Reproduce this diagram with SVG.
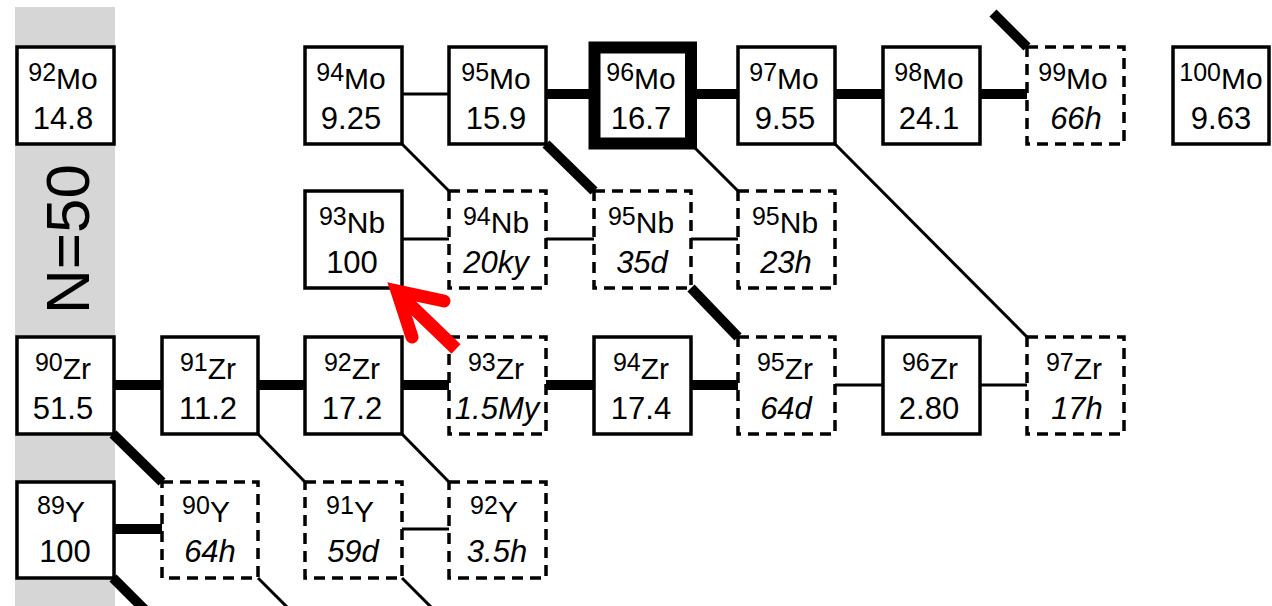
<svg xmlns="http://www.w3.org/2000/svg" width="1272" height="606" viewBox="0 0 1272 606">
<style>
.band{fill:#d6d6d6}
.box{fill:#fff;stroke:#000;stroke-width:3.5}
.rad{fill:#fff;stroke:#000;stroke-width:3.5;stroke-dasharray:11 7}
.big{fill:#fff;stroke:#000;stroke-width:12}
.thin{stroke:#000;stroke-width:3;fill:none}
.thick{stroke:#000;stroke-width:10;fill:none}
text{font-family:"Liberation Sans",Arial,Helvetica,sans-serif;fill:#000;text-anchor:middle}
.lab{font-size:30px}
.sup{font-size:25px}
.val{font-size:31px}
.hl{font-style:italic}
.n50{font-size:62px}
.arrow{stroke:#ff0000;stroke-width:13;fill:none}
</style>
<rect class="band" x="15" y="7" width="100" height="599"/>
<text class="n50" transform="translate(89,239) rotate(-90)">N=50</text>
<g id="connectors">
<line class="thin" x1="402" y1="94" x2="449" y2="94"/>
<line class="thick" x1="546" y1="94" x2="594" y2="94"/>
<line class="thick" x1="691" y1="94" x2="738" y2="94"/>
<line class="thick" x1="835" y1="94" x2="883" y2="94"/>
<line class="thick" x1="980" y1="94" x2="1027" y2="94"/>
<line class="thin" x1="402" y1="239" x2="449" y2="239"/>
<line class="thin" x1="546" y1="239" x2="594" y2="239"/>
<line class="thin" x1="691" y1="239" x2="738" y2="239"/>
<line class="thick" x1="113" y1="385" x2="162" y2="385"/>
<line class="thick" x1="258" y1="385" x2="305" y2="385"/>
<line class="thick" x1="402" y1="385" x2="449" y2="385"/>
<line class="thick" x1="546" y1="385" x2="594" y2="385"/>
<line class="thick" x1="691" y1="385" x2="738" y2="385"/>
<line class="thin" x1="835" y1="385" x2="883" y2="385"/>
<line class="thin" x1="980" y1="385" x2="1027" y2="385"/>
<line class="thick" x1="113" y1="529" x2="162" y2="529"/>
<line class="thin" x1="402" y1="529" x2="449" y2="529"/>
<line class="thin" x1="402" y1="144" x2="449" y2="191"/>
<line class="thick" x1="546" y1="144" x2="594" y2="191"/>
<line class="thin" x1="691" y1="144" x2="738" y2="191"/>
<line class="thin" x1="835" y1="144" x2="1027" y2="337"/>
<line class="thick" x1="993" y1="13" x2="1027" y2="47"/>
<line class="thick" x1="691" y1="288" x2="738" y2="337"/>
<line class="thick" x1="113" y1="434" x2="162" y2="482"/>
<line class="thin" x1="258" y1="434" x2="305" y2="482"/>
<line class="thin" x1="402" y1="434" x2="449" y2="482"/>
<line class="thick" x1="113" y1="578" x2="145" y2="610"/>
<line class="thin" x1="258" y1="578" x2="290" y2="610"/>
<line class="thin" x1="402" y1="578" x2="434" y2="610"/>
</g>
<g id="Mo92"><rect class="box" x="17" y="47" width="97" height="97"/><text class="lab" x="63" y="89"><tspan class="sup" dy="-8">92</tspan><tspan dy="8">Mo</tspan></text><text class="val" x="63" y="129">14.8</text></g>
<g id="Mo94"><rect class="box" x="305" y="47" width="97" height="97"/><text class="lab" x="351" y="89"><tspan class="sup" dy="-8">94</tspan><tspan dy="8">Mo</tspan></text><text class="val" x="351" y="129">9.25</text></g>
<g id="Mo95"><rect class="box" x="449" y="47" width="97" height="97"/><text class="lab" x="496" y="89"><tspan class="sup" dy="-8">95</tspan><tspan dy="8">Mo</tspan></text><text class="val" x="496" y="129">15.9</text></g>
<g id="Mo96"><rect class="big" x="594.5" y="47.5" width="96.5" height="96"/><text class="lab" x="641" y="89"><tspan class="sup" dy="-8">96</tspan><tspan dy="8">Mo</tspan></text><text class="val" x="641" y="129">16.7</text></g>
<g id="Mo97"><rect class="box" x="738" y="47" width="97" height="97"/><text class="lab" x="784" y="89"><tspan class="sup" dy="-8">97</tspan><tspan dy="8">Mo</tspan></text><text class="val" x="785" y="129">9.55</text></g>
<g id="Mo98"><rect class="box" x="883" y="47" width="97" height="97"/><text class="lab" x="929" y="89"><tspan class="sup" dy="-8">98</tspan><tspan dy="8">Mo</tspan></text><text class="val" x="929" y="129">24.1</text></g>
<g id="Mo99"><rect class="rad" x="1027" y="47" width="97" height="97"/><text class="lab" x="1073" y="89"><tspan class="sup" dy="-8">99</tspan><tspan dy="8">Mo</tspan></text><text class="val hl" x="1076" y="129">66h</text></g>
<g id="Mo100"><rect class="box" x="1173" y="47" width="96" height="97"/><text class="lab" x="1221" y="89"><tspan class="sup" dy="-8">100</tspan><tspan dy="8">Mo</tspan></text><text class="val" x="1221" y="129">9.63</text></g>
<g id="Nb93"><rect class="box" x="305" y="191" width="97" height="97"/><text class="lab" x="352" y="233"><tspan class="sup" dy="-8">93</tspan><tspan dy="8">Nb</tspan></text><text class="val" x="352" y="273">100</text></g>
<g id="Nb94"><rect class="rad" x="449" y="191" width="97" height="97"/><text class="lab" x="496" y="233"><tspan class="sup" dy="-8">94</tspan><tspan dy="8">Nb</tspan></text><text class="val hl" x="496" y="273">20ky</text></g>
<g id="Nb95a"><rect class="rad" x="594" y="191" width="97" height="97"/><text class="lab" x="641" y="233"><tspan class="sup" dy="-8">95</tspan><tspan dy="8">Nb</tspan></text><text class="val hl" x="642" y="273">35d</text></g>
<g id="Nb95b"><rect class="rad" x="738" y="191" width="97" height="97"/><text class="lab" x="785" y="233"><tspan class="sup" dy="-8">95</tspan><tspan dy="8">Nb</tspan></text><text class="val hl" x="786" y="273">23h</text></g>
<g id="Zr90"><rect class="box" x="17" y="337" width="97" height="97"/><text class="lab" x="63" y="379"><tspan class="sup" dy="-8">90</tspan><tspan dy="8">Zr</tspan></text><text class="val" x="63" y="419">51.5</text></g>
<g id="Zr91"><rect class="box" x="162" y="337" width="96" height="97"/><text class="lab" x="208" y="379"><tspan class="sup" dy="-8">91</tspan><tspan dy="8">Zr</tspan></text><text class="val" x="208" y="419">11.2</text></g>
<g id="Zr92"><rect class="box" x="305" y="337" width="97" height="97"/><text class="lab" x="352" y="379"><tspan class="sup" dy="-8">92</tspan><tspan dy="8">Zr</tspan></text><text class="val" x="352" y="419">17.2</text></g>
<g id="Zr93"><rect class="rad" x="449" y="337" width="97" height="97"/><text class="lab" x="496" y="379"><tspan class="sup" dy="-8">93</tspan><tspan dy="8">Zr</tspan></text><text class="val hl" x="497" y="419">1.5My</text></g>
<g id="Zr94"><rect class="box" x="594" y="337" width="97" height="97"/><text class="lab" x="641" y="379"><tspan class="sup" dy="-8">94</tspan><tspan dy="8">Zr</tspan></text><text class="val" x="641" y="419">17.4</text></g>
<g id="Zr95"><rect class="rad" x="738" y="337" width="97" height="97"/><text class="lab" x="785" y="379"><tspan class="sup" dy="-8">95</tspan><tspan dy="8">Zr</tspan></text><text class="val hl" x="786" y="419">64d</text></g>
<g id="Zr96"><rect class="box" x="883" y="337" width="97" height="97"/><text class="lab" x="930" y="379"><tspan class="sup" dy="-8">96</tspan><tspan dy="8">Zr</tspan></text><text class="val" x="929" y="419">2.80</text></g>
<g id="Zr97"><rect class="rad" x="1027" y="337" width="97" height="97"/><text class="lab" x="1074" y="379"><tspan class="sup" dy="-8">97</tspan><tspan dy="8">Zr</tspan></text><text class="val hl" x="1077" y="419">17h</text></g>
<g id="Y89"><rect class="box" x="17" y="482" width="97" height="96"/><text class="lab" x="61" y="522"><tspan class="sup" dy="-8">89</tspan><tspan dy="8">Y</tspan></text><text class="val" x="65" y="562">100</text></g>
<g id="Y90"><rect class="rad" x="162" y="482" width="96" height="96"/><text class="lab" x="206" y="522"><tspan class="sup" dy="-8">90</tspan><tspan dy="8">Y</tspan></text><text class="val hl" x="210" y="562">64h</text></g>
<g id="Y91"><rect class="rad" x="305" y="482" width="97" height="96"/><text class="lab" x="350" y="522"><tspan class="sup" dy="-8">91</tspan><tspan dy="8">Y</tspan></text><text class="val hl" x="353" y="562">59d</text></g>
<g id="Y92"><rect class="rad" x="449" y="482" width="97" height="96"/><text class="lab" x="494" y="522"><tspan class="sup" dy="-8">92</tspan><tspan dy="8">Y</tspan></text><text class="val hl" x="497" y="562">3.5h</text></g>
<g id="arrow">
<line class="arrow" x1="400" y1="295" x2="456" y2="349"/>
<path class="arrow" d="M412,337 L397,291 L444,301" stroke-linecap="round" stroke-linejoin="miter" stroke-miterlimit="10"/>
</g>
</svg>
